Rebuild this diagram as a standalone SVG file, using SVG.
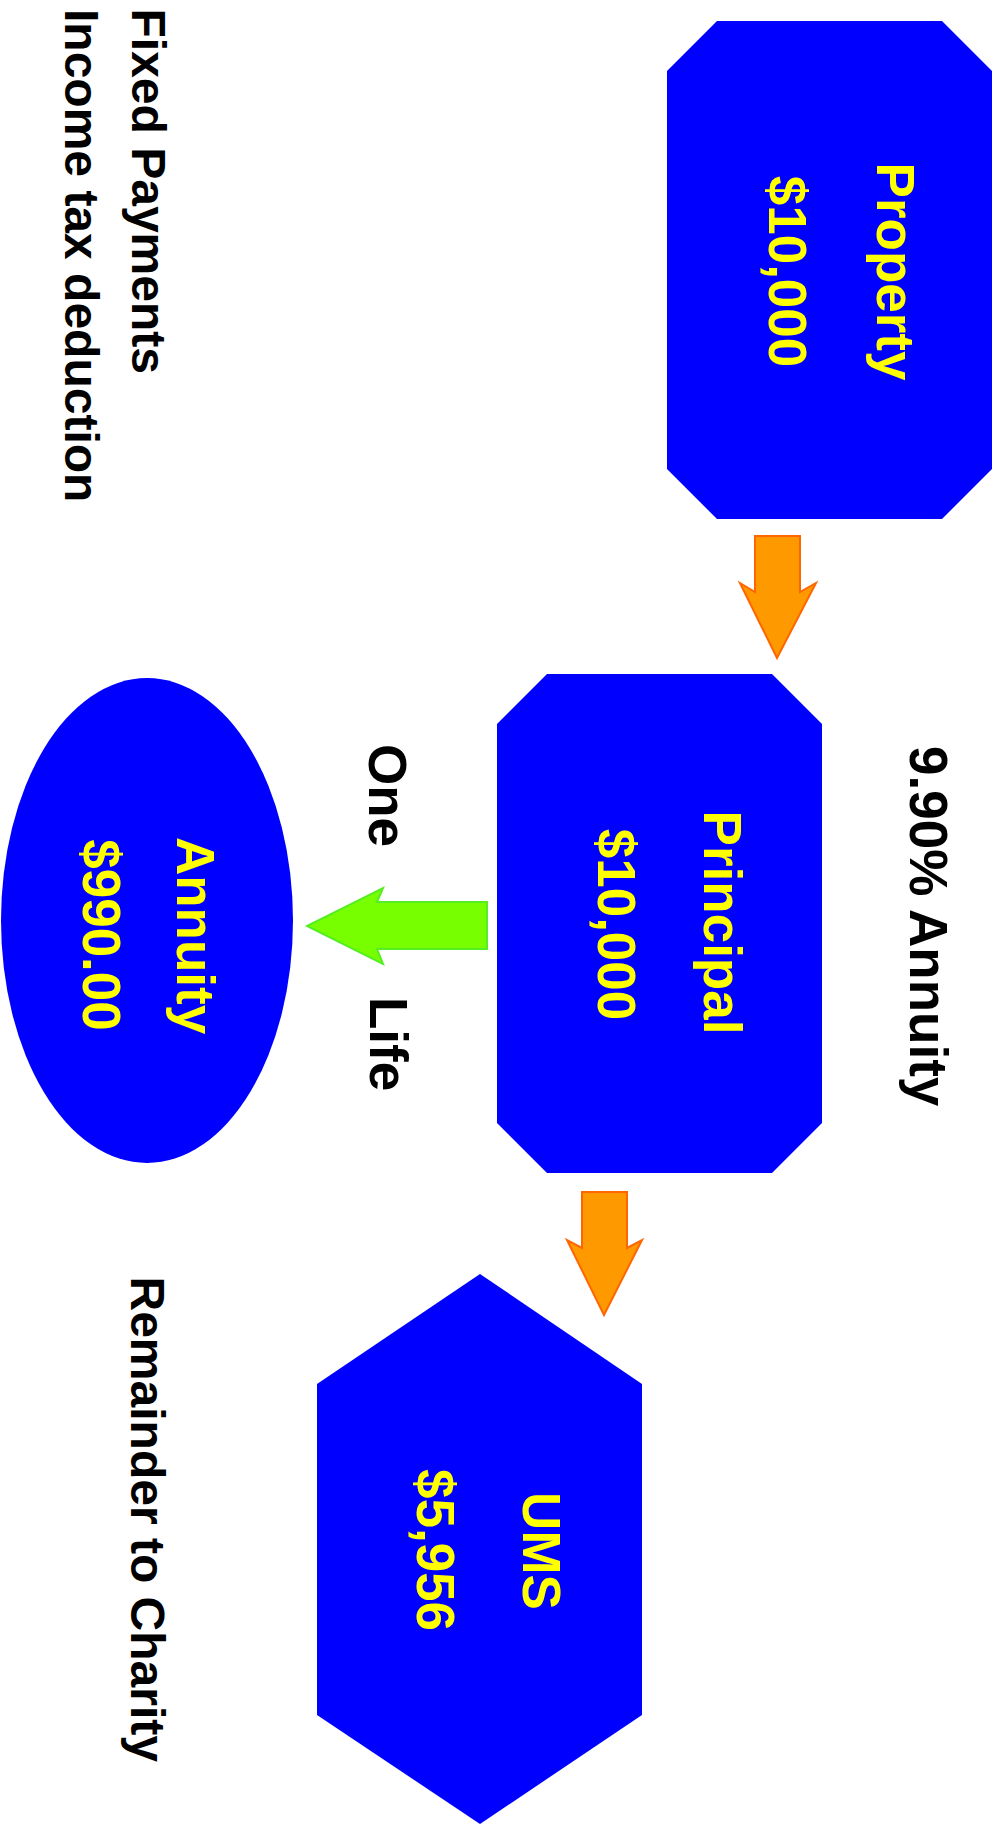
<svg xmlns="http://www.w3.org/2000/svg" width="998" height="1825" viewBox="0 0 998 1825">
<style>
.node{fill:#0000FF;}
.yt{font-family:"Liberation Sans",Arial,sans-serif;font-weight:bold;font-size:53px;fill:#FFFF00;text-anchor:middle;}
.bt{font-family:"Liberation Sans",Arial,sans-serif;font-weight:bold;fill:#000000;}
.orange{fill:#FF9900;stroke:#FF6600;stroke-width:2;stroke-linejoin:miter;}
.green{fill:#77FF00;stroke:#55EE22;stroke-width:2;stroke-linejoin:miter;}
</style>
<rect width="998" height="1825" fill="#FFFFFF"/>
<g id="connectors">
<polygon class="orange" points="755,536 800,536 800,592 816,583 777,658 740,583 755,592"/>
<polygon class="orange" points="582,1192 627,1192 627,1248 642,1240 604,1315 567,1240 582,1248"/>
<polygon class="green" points="487,902 487,949 377,949 383,964 307,926 383,888 377,902"/>
</g>
<g id="property">
<polygon class="node" points="717,21 942,21 992,71 992,469 942,519 717,519 667,469 667,71"/>
<text class="yt" transform="translate(877,271.5) rotate(90)">Property</text>
<text class="yt" transform="translate(769,271.5) rotate(90)">$10,000</text>
</g>
<g id="principal">
<polygon class="node" points="547,674 772,674 822,724 822,1123 772,1173 547,1173 497,1123 497,724"/>
<text class="yt" transform="translate(704,922.5) rotate(90)">Principal</text>
<text class="yt" transform="translate(598,924.5) rotate(90)">$10,000</text>
</g>
<g id="annuity">
<ellipse class="node" cx="147" cy="920.5" rx="146" ry="242.5"/>
<text class="yt" transform="translate(177,935.5) rotate(90)">Annuity</text>
<text class="yt" transform="translate(83,935) rotate(90)">$990.00</text>
</g>
<g id="ums">
<polygon class="node" points="480,1274 642,1384 642,1715 480,1824 317,1715 317,1384"/>
<text class="yt" transform="translate(523,1551) rotate(90)">UMS</text>
<text class="yt" transform="translate(417,1550) rotate(90)">$5,956</text>
</g>
<g id="labels">
<text class="bt" font-size="53" transform="translate(910,746) rotate(90)">9.90% Annuity</text>
<text class="bt" font-size="53" transform="translate(369,744) rotate(90)">One</text>
<text class="bt" font-size="53" transform="translate(370,997) rotate(90)">Life</text>
<text class="bt" font-size="48" transform="translate(132,8.5) rotate(90)">Fixed Payments</text>
<text class="bt" font-size="48" transform="translate(65,9) rotate(90)">Income tax deduction</text>
<text class="bt" font-size="48" transform="translate(131,1276.5) rotate(90)">Remainder to Charity</text>
</g>
</svg>
